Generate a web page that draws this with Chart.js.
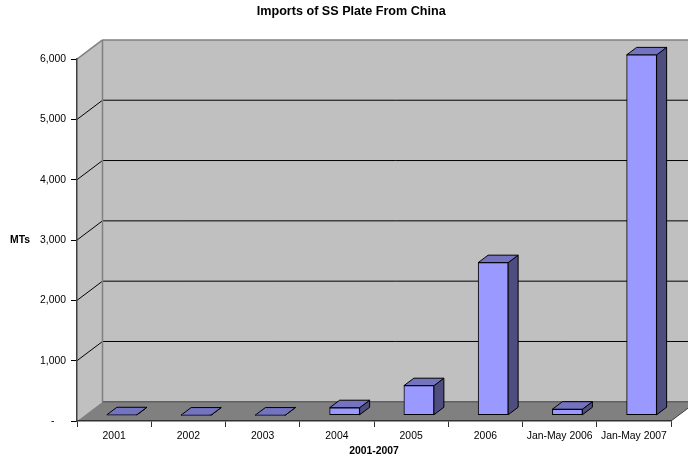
<!DOCTYPE html>
<html>
<head>
<meta charset="utf-8">
<title>Imports of SS Plate From China</title>
<script src="https://cdn.jsdelivr.net/npm/chart.js@4/dist/chart.umd.min.js"></script>
<style>
    html, body { margin: 0; padding: 0; background: #fff; overflow: hidden; }
    canvas { display: block; }
</style>
</head>
<body>
<canvas id="chart" width="688" height="459"></canvas>
<script>
const categories = ['2001', '2002', '2003', '2004', '2005', '2006', 'Jan-May 2006', 'Jan-May 2007'];
const importsMt = [8, 3, 3, 125, 490, 2530, 100, 5975];
const yTicks = [0, 1000, 2000, 3000, 4000, 5000, 6000];

// Box depth of the walls and of the bars, in pixels
const WALL_DX = 25.5, WALL_DY = 19.2;
const BAR_DX = 10, BAR_DY = 7.5;
const BAR_SHIFT_X = 7.75, BAR_SHIFT_Y = 5.75;

const FONT = '"Liberation Sans", Arial, sans-serif';

function poly(ctx, pts, fill, stroke, lw) {
    ctx.beginPath();
    pts.forEach((p, i) => i ? ctx.lineTo(p[0], p[1]) : ctx.moveTo(p[0], p[1]));
    ctx.closePath();
    ctx.fillStyle = fill;
    ctx.fill();
    if (stroke) {
        ctx.strokeStyle = stroke;
        ctx.lineWidth = lw || 1;
        ctx.stroke();
    }
}

function line(ctx, x1, y1, x2, y2, color, lw) {
    ctx.beginPath();
    ctx.moveTo(x1, y1);
    ctx.lineTo(x2, y2);
    ctx.strokeStyle = color;
    ctx.lineWidth = lw || 1;
    ctx.stroke();
}

// Side wall, back wall, floor and the gridlines that run across them
const wallsPlugin = {
    id: 'walls',
    beforeDraw(chart) {
        const { ctx, chartArea: a, scales: { y } } = chart;
        const bx = a.left + WALL_DX, bTop = a.top - WALL_DY, bBot = a.bottom - WALL_DY;
        ctx.save();
        poly(ctx, [[bx, bTop], [a.right + WALL_DX, bTop], [a.right + WALL_DX, bBot], [bx, bBot]], '#c0c0c0');
        poly(ctx, [[a.left, a.top], [bx, bTop], [bx, bBot], [a.left, a.bottom]], '#c0c0c0');
        poly(ctx, [[a.left, a.bottom], [a.right, a.bottom], [a.right + WALL_DX, bBot], [bx, bBot]], '#808080');

        yTicks.filter(v => v > 0 && v < 6000).forEach(v => {
            const py = y.getPixelForValue(v);
            line(ctx, a.left, py, bx, py - WALL_DY, '#000');
            line(ctx, bx, py - WALL_DY, a.right + WALL_DX, py - WALL_DY, '#000');
        });

        line(ctx, a.left, a.top, bx, bTop, '#808080', 1.5);
        line(ctx, bx, bTop, a.right + WALL_DX, bTop, '#808080', 1.5);
        line(ctx, bx, bTop, bx, bBot, '#808080', 1.5);
        line(ctx, bx, bBot, a.right + WALL_DX, bBot, '#606060', 1.5);
        line(ctx, a.right, a.bottom, a.right + WALL_DX, bBot, '#404040');
        ctx.restore();
    },
    // Bars stand a little behind the axis plane, so their front face is shifted too
    beforeDatasetDraw(chart, args) {
        const { ctx } = chart;
        ctx.save();
        ctx.translate(BAR_SHIFT_X, -BAR_SHIFT_Y);
        args.meta.data.forEach(el => {
            const b = el.getProps(['x', 'y', 'base', 'width'], true);
            const l = b.x - b.width / 2, r = b.x + b.width / 2;
            poly(ctx, [[r, b.y], [r + BAR_DX, b.y - BAR_DY], [r + BAR_DX, b.base - BAR_DY], [r, b.base]], '#4d4d80', '#000');
            poly(ctx, [[l, b.y], [l + BAR_DX, b.y - BAR_DY], [r + BAR_DX, b.y - BAR_DY], [r, b.y]], '#7373bf', '#000');
        });
    },
    afterDatasetDraw(chart) {
        chart.ctx.restore();
    },
    // The value axis title sits horizontally, which the scale title cannot do
    afterDraw(chart) {
        const { ctx, chartArea: a } = chart;
        ctx.save();
        ctx.font = 'bold 10.4px ' + FONT;
        ctx.fillStyle = '#000';
        ctx.textAlign = 'center';
        ctx.textBaseline = 'middle';
        ctx.fillText('MTs', 20, (a.top + a.bottom) / 2);
        ctx.restore();
    }
};

new Chart(document.getElementById('chart'), {
    type: 'bar',
    data: {
        labels: categories,
        datasets: [{
            label: 'Imports (MTs)',
            data: importsMt,
            backgroundColor: '#9999ff',
            borderColor: '#000',
            borderWidth: 1,
            borderSkipped: false,
            barThickness: 30,
            clip: false
        }]
    },
    options: {
        responsive: false,
        animation: false,
        layout: { padding: { right: 17 } },
        plugins: {
            legend: { display: false },
            tooltip: { enabled: false },
            title: {
                display: true,
                // leading spaces push it right of the box centre, as in the original
                text: '         Imports of SS Plate From China',
                color: '#000',
                font: { family: FONT, size: 12.6, weight: 'bold' },
                padding: { top: 4, bottom: 40 }
            }
        },
        scales: {
            x: {
                afterFit(s) { s.height = 38; },
                grid: { offset: true, drawOnChartArea: false, tickLength: 6, color: '#303030' },
                border: { color: '#303030', width: 1.5 },
                ticks: { color: '#000', padding: 3, maxRotation: 0, autoSkip: false, font: { family: FONT, size: 10.4 } },
                title: {
                    display: true,
                    text: '2001-2007',
                    color: '#000',
                    font: { family: FONT, size: 10.4, weight: 'bold' },
                    padding: { top: 0, bottom: 2 }
                }
            },
            y: {
                min: 0,
                max: 6000,
                afterFit(s) { s.width = 77; },
                afterBuildTicks(s) { s.ticks = yTicks.map(value => ({ value })); },
                grid: { drawOnChartArea: false, tickLength: 6, color: '#000' },
                border: { color: '#404040', width: 1.5 },
                ticks: {
                    color: '#000',
                    padding: 5,
                    font: { family: FONT, size: 10.4 },
                    callback: v => v === 0 ? '-    ' : v.toLocaleString('en-US')
                }
            }
        }
    },
    plugins: [wallsPlugin]
});
</script>
</body>
</html>
